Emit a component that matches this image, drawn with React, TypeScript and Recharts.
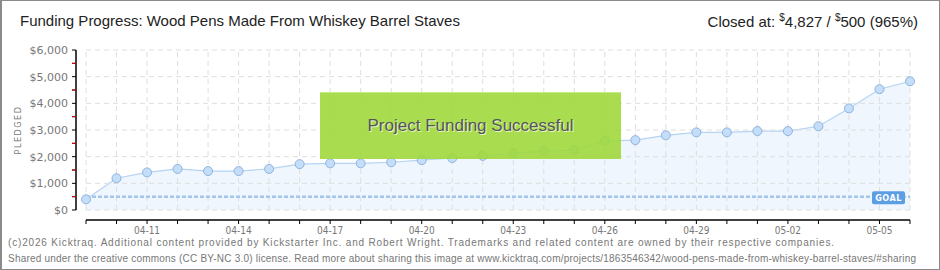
import React from 'react';
import { ComposedChart, Area, XAxis, YAxis, ReferenceLine } from 'recharts';

const dates = [
  '04-09', '04-10', '04-11', '04-12', '04-13', '04-14', '04-15', '04-16', '04-17', '04-18',
  '04-19', '04-20', '04-21', '04-22', '04-23', '04-24', '04-25', '04-26', '04-27', '04-28',
  '04-29', '04-30', '05-01', '05-02', '05-03', '05-04', '05-05', '05-06',
];
const pledged = [
  400, 1190, 1410, 1540, 1460, 1460, 1540, 1720, 1750, 1750,
  1790, 1870, 1950, 2030, 2130, 2210, 2250, 2590, 2620, 2800,
  2910, 2910, 2960, 2960, 3140, 3810, 4530, 4827,
];
const goal = 500;
const majorTicks = [0, 1000, 2000, 3000, 4000, 5000, 6000];
const allTicks = [0, 500, 1000, 1500, 2000, 2500, 3000, 3500, 4000, 4500, 5000, 5500, 6000];

const data = dates.map((d, i) => ({ date: d, value: pledged[i] }));

const AXIS_FONT = '"DejaVu Sans Condensed", "DejaVu Sans", sans-serif';
const TEXT_FONT = '"Liberation Sans", Arial, sans-serif';
const GRID = '#dedede';

const fmtMoney = (v: number) => '$' + v.toLocaleString('en-US');

const YTick = (props: any) => {
  const { x, y, payload } = props;
  const v = payload.value;
  if (v % 1000 !== 0) {
    return <line x1={x + 4} x2={x + 8} y1={y} y2={y} stroke="#e00000" strokeWidth={1} />;
  }
  return (
    <text x={x} y={y} dy={4} textAnchor="end" fill="#777" fontSize={11} fontFamily={'"DejaVu Sans", sans-serif'}>
      {fmtMoney(v)}
    </text>
  );
};

const XTick = (props: any) => {
  const { x, y, index, payload } = props;
  if (index % 3 !== 2) return null;
  return (
    <text x={x} y={y} dy={8} textAnchor="middle" fill="#777" fontSize={10} fontFamily={AXIS_FONT} style={{ fontStretch: 'condensed' }}>
      {payload.value}
    </text>
  );
};

const Dot = (props: any) => {
  const { cx, cy, index } = props;
  if (cx == null || cy == null) return null;
  return <circle key={index} cx={cx} cy={cy} r={4.5} fill="#c4ddf8" stroke="#8fb4de" strokeWidth={1} />;
};

const GoalLabel = (props: any) => {
  const vb = props.viewBox || {};
  const right = vb.x + vb.width;
  return (
    <g>
      <rect x={right - 38} y={vb.y - 5.5} width={33} height={13} rx={2} fill="#5c9ee3" />
      <text x={right - 21.5} y={vb.y + 4} textAnchor="middle" fill="#fff" fontSize={9} fontWeight="bold" fontFamily={AXIS_FONT} letterSpacing={0.5}>
        GOAL
      </text>
    </g>
  );
};

const PledgedLabel = (props: any) => {
  const vb = props.viewBox || {};
  const cx = vb.x + 5;
  const cy = vb.y + vb.height / 2;
  return (
    <text x={cx} y={cy} transform={`rotate(-90 ${cx} ${cy})`} textAnchor="middle" fill="#777" fontSize={9} fontFamily={AXIS_FONT} letterSpacing={1.5}>
      PLEDGED
    </text>
  );
};

export default function App() {
  return (
    <div style={{ position: 'absolute', left: 0, top: 0, width: 940, height: 270, background: '#fff', overflow: 'hidden' }}>
      <ComposedChart width={940} height={270} data={data} margin={{ top: 50, right: 30, bottom: 20, left: 16 }}>
        {/* inner axes: spacers that push the visible axes 10px away from the plot */}
        <XAxis xAxisId={0} dataKey="date" height={10} tick={false} axisLine={false} tickLine={false} interval={0} />
        <YAxis yAxisId={0} width={10} domain={[0, 6000]} allowDataOverflow ticks={majorTicks} interval={0} tick={false} axisLine={false} tickLine={false} />
        <XAxis
          xAxisId="vis"
          dataKey="date"
          height={30}
          interval={0}
          axisLine={{ stroke: '#000', strokeWidth: 1.5 }}
          tickLine={{ stroke: '#000' }}
          tickSize={4}
          tick={<XTick />}
        />
        <YAxis
          yAxisId="vis"
          width={60}
          type="number"
          domain={[0, 6000]}
          allowDataOverflow
          ticks={allTicks}
          interval={0}
          axisLine={{ stroke: '#000', strokeWidth: 1.5 }}
          tickLine={{ stroke: '#000' }}
          tickSize={4}
          tickMargin={4}
          tick={<YTick />}
          label={<PledgedLabel />}
        />
        {/* dashed grid */}
        {majorTicks.map((v) => (
          <ReferenceLine key={'h' + v} y={v} stroke={GRID} strokeDasharray="5 4" />
        ))}
        {dates.map((d) => (
          <ReferenceLine key={'v' + d} x={d} stroke={GRID} strokeDasharray="5 4" />
        ))}
        <Area
          type="linear"
          dataKey="value"
          stroke="#b5d3f3"
          strokeWidth={1.2}
          fill="#ecf4fd"
          fillOpacity={0.85}
          dot={<Dot />}
          activeDot={false}
          isAnimationActive={false}
        />
        <ReferenceLine y={goal} stroke="#a4c6ec" strokeWidth={2.5} strokeDasharray="4 2" label={<GoalLabel />} />
      </ComposedChart>

      <div style={{ position: 'absolute', left: 320, top: 92, width: 301, height: 66, background: 'rgba(160,216,60,0.9)', borderTop: '1px solid rgba(200,235,140,0.9)' }}>
        <div style={{ position: 'absolute', left: 0, right: 0, top: 23, textAlign: 'center', fontFamily: TEXT_FONT, fontSize: 17, color: '#555', textShadow: '1px 1px 0 #e8f4d0', whiteSpace: 'nowrap' }}>
          Project Funding Successful
        </div>
      </div>

      <div style={{ position: 'absolute', left: 20, top: 12, fontFamily: TEXT_FONT, fontSize: 15, color: '#222', whiteSpace: 'nowrap' }}>
        Funding Progress: Wood Pens Made From Whiskey Barrel Staves
      </div>
      <div style={{ position: 'absolute', right: 22, top: 12, fontFamily: TEXT_FONT, fontSize: 15, color: '#222', whiteSpace: 'nowrap' }}>
        Closed at: <sup style={{ fontSize: 10 }}>$</sup>4,827 / <sup style={{ fontSize: 10 }}>$</sup>500 (965%)
      </div>

      <svg style={{ position: 'absolute', left: 0, top: 0 }} width={940} height={270}>
        <text x={8} y={246} fontFamily={TEXT_FONT} fontSize={10} fill="#777" textLength={826} lengthAdjust="spacing">
          (c)2026 Kicktraq. Additional content provided by Kickstarter Inc. and Robert Wright. Trademarks and related content are owned by their respective companies.
        </text>
        <text x={8} y={262} fontFamily={TEXT_FONT} fontSize={10} fill="#777" textLength={908} lengthAdjust="spacing">
          Shared under the creative commons (CC BY-NC 3.0) license. Read more about sharing this image at www.kicktraq.com/projects/1863546342/wood-pens-made-from-whiskey-barrel-staves/#sharing
        </text>
      </svg>

      <div style={{ position: 'absolute', left: 0, top: 0, width: 940, height: 270, boxSizing: 'border-box', border: '1px solid #8a8a8a', borderLeftWidth: 2, pointerEvents: 'none' }} />
    </div>
  );
}
